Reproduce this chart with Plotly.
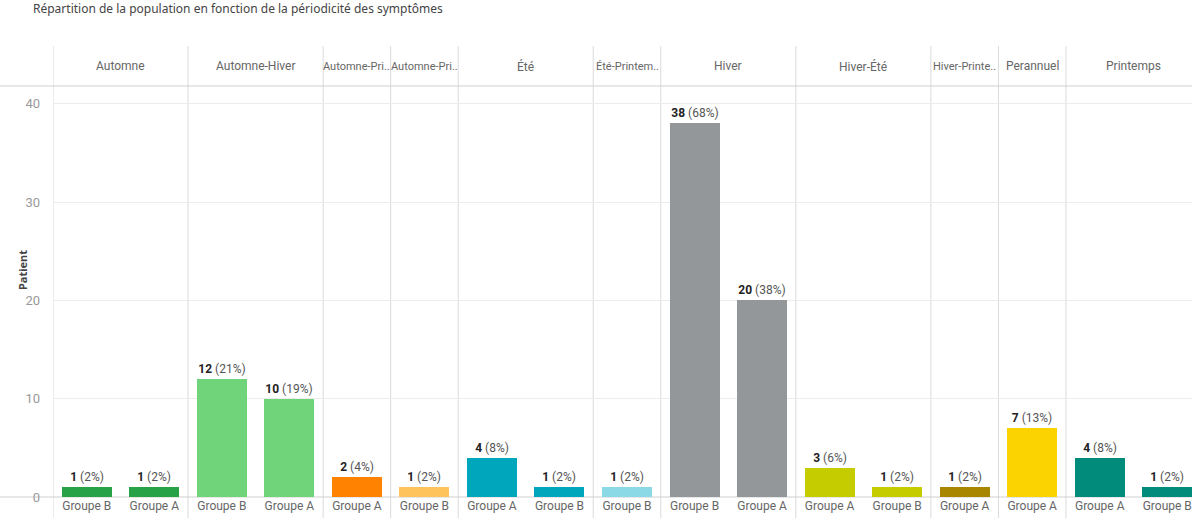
import plotly.graph_objects as go

# Periodicity panels, in display order, with the number of bars each holds
panels = ["Automne", "Automne-Hiver", "Automne-Pri..", "Automne-Pri..", "Été",
          "Été-Printem..", "Hiver", "Hiver-Été", "Hiver-Printe..", "Perannuel", "Printemps"]
panel_sizes = [2, 2, 1, 1, 2, 1, 2, 2, 1, 1, 2]
panel_colors = ["#27a246", "#6fd47a", "#ff8200", "#ffc35c", "#00a6bc",
                "#8bd9e6", "#939799", "#c5cd00", "#a88600", "#fbd300", "#008b7a"]

# One entry per bar
groups = ["Groupe B", "Groupe A", "Groupe B", "Groupe A", "Groupe A", "Groupe B",
          "Groupe A", "Groupe B", "Groupe B", "Groupe B", "Groupe A", "Groupe A",
          "Groupe B", "Groupe A", "Groupe A", "Groupe A", "Groupe B"]
patients = [1, 1, 12, 10, 2, 1, 4, 1, 1, 38, 20, 3, 1, 1, 7, 4, 1]
percents = ["2%", "2%", "21%", "19%", "4%", "2%", "8%", "2%", "2%", "68%", "38%",
            "6%", "2%", "2%", "13%", "8%", "2%"]
y_ticks = [0, 10, 20, 30, 40]

FONT = "Roboto, Liberation Sans, sans-serif"

xs = list(range(len(patients)))
bar_colors = []
for name_i, n in enumerate(panel_sizes):
    bar_colors += [panel_colors[name_i]] * n

labels = [f"<b>{v}</b><span style='color:#555'> ({p})</span>" for v, p in zip(patients, percents)]

fig = go.Figure(go.Bar(
    x=xs, y=patients, width=0.74,
    marker=dict(color=bar_colors, line=dict(width=0)),
    text=labels, textposition="outside", constraintext="none", cliponaxis=False,
    textfont=dict(family=FONT, size=12, color="#222"),
    hoverinfo="skip",
))

L, T, B = 53, 86, 21
W, H = 1192, 518
plot_w = W - L
plot_h = H - T - B
slot = 67.53
x_max = -0.5 + plot_w / slot

def py(pix):
    """Pixel row -> paper y."""
    return (H - B - pix) / plot_h

shapes = []
annotations = []
# Panel separators and headers
start = 0
bounds = [start]
for n in panel_sizes:
    start += n
    bounds.append(start)
for i, name in enumerate(panels):
    x0 = bounds[i] - 0.5
    x1 = bounds[i + 1] - 0.5
    shapes.append(dict(type="line", xref="x", yref="paper", x0=x0, x1=x0,
                       y0=py(H), y1=py(46), line=dict(color="#dadada", width=1), layer="below"))
    size = 11 if name.endswith("..") else 12
    annotations.append(dict(x=(x0 + x1) / 2, y=py(66), xref="x", yref="paper", text=name,
                            showarrow=False, font=dict(family=FONT, size=size, color="#666"),
                            xanchor="center", yanchor="middle"))
# Header bottom line and axis baseline across full width
for pix in (T, H - B):
    shapes.append(dict(type="line", xref="paper", yref="paper", x0=-L / plot_w, x1=1,
                       y0=py(pix), y1=py(pix), line=dict(color="#cfcfcf", width=1), layer="below"))

annotations.append(dict(x=-L / plot_w + 22 / plot_w, y=py(270), xref="paper", yref="paper",
                        text="<b>Patient</b>", textangle=-90, showarrow=False,
                        font=dict(family="Noto Sans, Open Sans, sans-serif", size=11, color="#444"),
                        xanchor="center", yanchor="middle"))

fig.update_layout(
    width=W, height=H,
    margin=dict(l=L, r=0, t=T, b=B),
    paper_bgcolor="white", plot_bgcolor="white",
    showlegend=False,
    title=dict(text="Répartition de la population en fonction de la périodicité des symptômes",
               x=33 / W, xref="container", xanchor="left",
               y=(H - 9) / H, yref="container", yanchor="middle",
               font=dict(family="Noto Sans, Open Sans, sans-serif", size=12, color="#444")),
    shapes=shapes, annotations=annotations,
    bargap=0,
)
fig.update_xaxes(range=[-0.5, x_max], tickvals=xs, ticktext=groups, showgrid=False,
                 zeroline=False, showline=False, ticks="",
                 tickfont=dict(family=FONT, size=12, color="#666"), fixedrange=True)
fig.update_yaxes(range=[0, plot_h / 9.83], tickvals=y_ticks, showgrid=True,
                 gridcolor="#ececec", gridwidth=1, zeroline=False, showline=False,
                 ticks="", ticklabelstandoff=12,
                 tickfont=dict(family=FONT, size=13, color="#999"), fixedrange=True)

fig.write_html("out.html")
